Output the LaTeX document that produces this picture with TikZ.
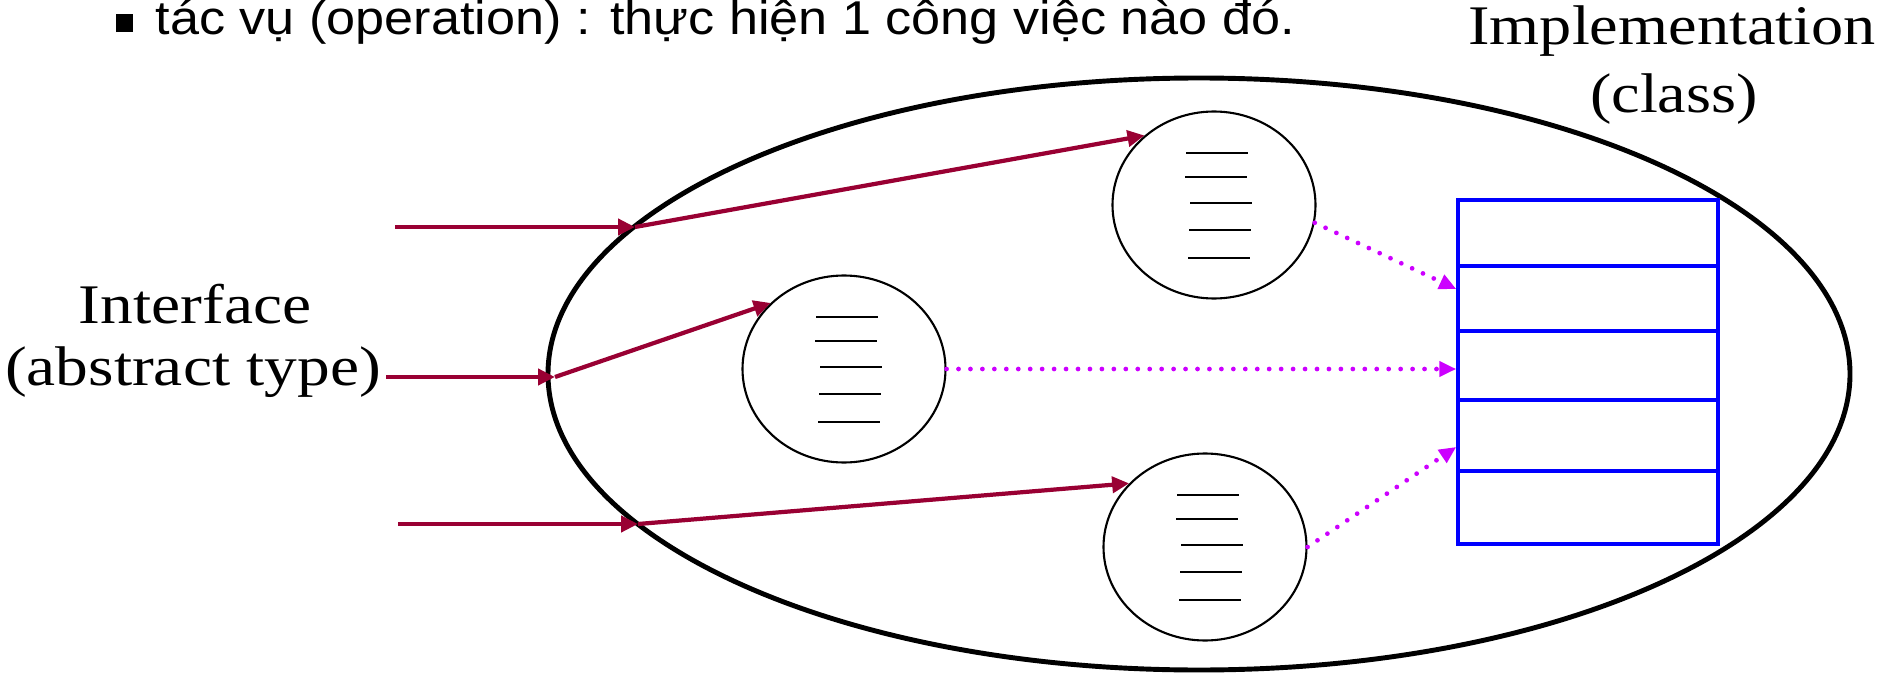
\documentclass[tikz,border=0pt]{standalone}
\usepackage{fontspec}
\setmainfont{Liberation Serif}
\newfontfamily\slidefont{Liberation Sans}
\usetikzlibrary{arrows.meta, positioning, calc, shapes.geometric}
\definecolor{slidered}{RGB}{153,0,51}
\definecolor{slideviolet}{RGB}{204,0,255}
\definecolor{classblue}{RGB}{0,0,255}

\begin{document}
\begin{tikzpicture}[
  in arrow/.style = {-{Triangle[length=1.7mm, width=1.6mm]}, line width=1.2pt, slidered},
  impl arrow/.style = {-{Triangle[length=1.7mm, width=1.5mm]}, line width=1.35pt, slideviolet, line cap=round, dash pattern=on 0pt off 3.4pt},
  op/.style = {ellipse, draw, line width=0.6pt, minimum width=2.03cm, minimum height=1.87cm, inner sep=0pt},
  label text/.style = {anchor=base, inner sep=0pt, font=\fontsize{15.9}{18}\selectfont}
]
  \useasboundingbox (0,0) rectangle (18.9,6.72);

  \node[anchor=base west, inner sep=0pt, font=\slidefont\fontsize{13.5}{15}\selectfont] (note) at (1.15,6.37)
    {\rule[0.03cm]{0.17cm}{0.18cm}\hspace{0.23cm}\scalebox{1.1}[1]{tác vụ (operation) : thực hiện 1 công việc nào đó.}};

  \draw[line width=1.4pt] (11.99,2.98) ellipse [x radius=6.51, y radius=2.96];

  \node[op] (opA) at (12.14,4.67) {};
  \node[op] (opB) at (8.44,3.03) {};
  \node[op] (opC) at (12.05,1.25) {};
  \foreach \n in {opA, opB, opC}
    \foreach \dx/\dy in {-0.28/0.52, -0.29/0.28, -0.24/0.02, -0.25/-0.25, -0.26/-0.53}
      \draw[line width=0.6pt] ([shift={(\dx,\dy)}]\n.center) -- ++(0.62,0);

  \node[draw=classblue, line width=1pt, minimum width=2.6cm, minimum height=3.44cm, inner sep=0pt] (cls) at (15.88,3.0) {};
  \foreach \dy in {0.68, 1.33, 2.02, 2.73}
    \draw[classblue, line width=1pt] ([yshift=-\dy cm]cls.north west) -- ([yshift=-\dy cm]cls.north east);

  \coordinate (srcA) at (3.95,4.45);
  \coordinate (inA) at (6.35,4.45);
  \coordinate (srcB) at (3.86,2.95);
  \coordinate (inB) at (5.55,2.95);
  \coordinate (srcC) at (3.98,1.48);
  \coordinate (inC) at (6.38,1.48);

  \draw[in arrow] (srcA) -- (inA);
  \draw[in arrow] (inA) -- (opA.135);
  \draw[in arrow] (srcB) -- (inB);
  \draw[in arrow] (inB) -- (opB.138);
  \draw[in arrow] (srcC) -- (inC);
  \draw[in arrow] (inC) -- (opC.140);

  \draw[impl arrow] (opA.-10) -- ([yshift=0.83cm]cls.west);
  \draw[impl arrow] (opB.east) -- (opB.east -| cls.west);
  \draw[impl arrow] (opC.east) -- ([yshift=-0.75cm]cls.west);

  \node[label text] (iface) at (1.95,3.49) {\scalebox{1.17}[1]{Interface}};
  \node[label text] (ifaceType) at (1.93,2.87) {\scalebox{1.17}[1]{(abstract type)}};
  \node[label text] (impl) at (16.72,6.27) {\scalebox{1.15}[1]{Implementation}};
  \node[label text] (implType) at (16.74,5.59) {\scalebox{1.15}[1]{(class)}};
\end{tikzpicture}
\end{document}
